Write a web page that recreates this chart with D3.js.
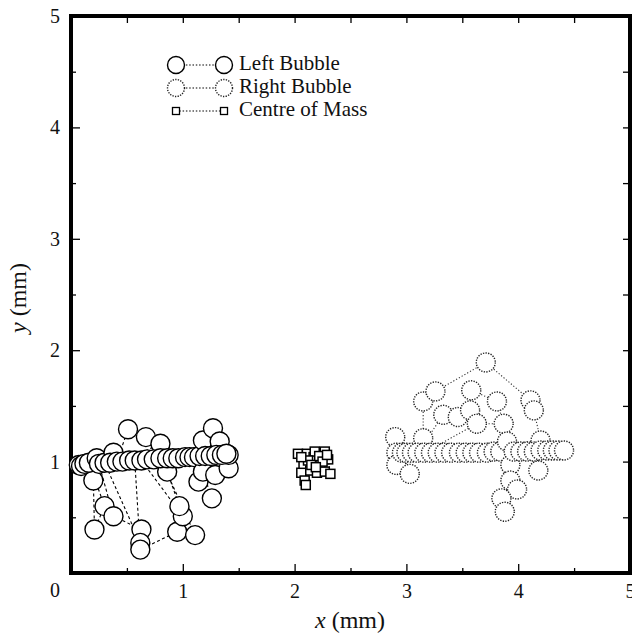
<!DOCTYPE html>
<html>
<head>
<meta charset="utf-8">
<script src="https://cdn.jsdelivr.net/npm/d3@7"></script>
<style>
  body { margin: 0; background: #fff; }
  svg text { font-family: "Liberation Serif", "Times New Roman", serif; }
</style>
</head>
<body>
<div id="container"></div>
<script>
// bubble centre positions (mm), in the order they are joined
let leftBubble = [
  [0.07,0.97],[0.09,0.96],[0.12,0.98],[0.20,0.83],[0.21,0.39],[0.30,0.60],
  [0.16,0.99],[0.23,1.03],[0.25,0.98],[0.38,0.51],[0.63,0.39],[0.62,0.27],
  [0.30,0.99],[0.38,1.08],[0.35,0.99],[0.41,1.00],[0.51,1.29],[0.67,1.22],
  [0.80,1.16],[0.46,1.00],[0.52,1.01],[0.57,1.01],[0.62,0.21],[0.95,0.37],
  [1.00,0.51],[0.63,1.01],[0.68,1.02],[0.74,1.02],[0.86,0.91],[0.97,0.60],
  [1.11,0.34],[0.80,1.03],[0.86,1.03],[0.91,1.03],[0.96,1.03],[1.02,1.04],
  [1.06,1.04],[1.10,1.04],[1.14,0.82],[1.26,0.67],[1.18,0.91],[1.15,1.05],
  [1.18,1.19],[1.27,1.30],[1.33,1.18],[1.20,1.05],[1.25,1.05],[1.29,0.88],
  [1.41,0.94],[1.41,1.06],[1.30,1.06],[1.35,1.06],[1.39,1.07]
];
let rightBubble = [
  [2.90,1.22],[2.91,1.08],[2.91,0.97],[3.03,0.89],[2.96,1.08],[3.00,1.08],
  [3.15,1.21],[3.15,1.54],[3.26,1.63],[3.71,1.89],[4.11,1.55],[4.14,1.46],
  [4.20,1.19],[3.05,1.08],[3.10,1.08],[3.33,1.42],[3.46,1.40],[3.57,1.46],
  [3.58,1.64],[3.81,1.54],[3.87,1.34],[3.63,1.34],[3.16,1.08],[3.22,1.08],
  [3.28,1.08],[3.34,1.08],[3.40,1.08],[3.47,1.08],[3.53,1.08],[3.59,1.08],
  [3.65,1.08],[3.72,1.08],[3.78,1.09],[3.84,1.09],[3.90,1.18],[3.93,0.97],
  [3.93,0.83],[3.99,0.75],[3.85,0.67],[3.88,0.55],[3.96,1.09],[4.02,1.09],
  [4.08,1.09],[4.18,0.92],[4.14,1.09],[4.20,1.10],[4.26,1.10],[4.31,1.10],
  [4.36,1.10],[4.41,1.10]
];
let centreMass = [
  [2.03,1.07],[2.06,0.90],[2.11,1.07],[2.08,0.98],[2.09,0.83],[2.10,0.79],
  [2.14,0.92],[2.17,1.04],[2.18,1.09],[2.20,0.90],[2.23,0.98],[2.27,1.09],
  [2.27,0.91],[2.30,1.02],[2.32,0.89],[2.12,1.01],[2.15,0.97],[2.22,1.05],
  [2.25,1.00],[2.06,1.04],[2.19,0.95],[2.29,1.06]
];
let majorTicks = [1, 2, 3, 4, 5];
let minorTicks = [0.5, 1.5, 2.5, 3.5, 4.5];
let legendLabels = ["Left Bubble", "Right Bubble", "Centre of Mass"];

let serif = '"Liberation Serif", "Times New Roman", serif';
let w = 632;
let h = 640;
let r = 9.5;

let svg = d3.select("#container")
  .append("svg")
  .attr("width", w)
  .attr("height", h)
  .attr("font-family", serif);

let x = d3.scaleLinear().domain([0, 5]).range([71, 630]);
let y = d3.scaleLinear().domain([0, 5]).range([573, 16]);

let line = d3.line()
  .x(function(d){ return x(d[0]) })
  .y(function(d){ return y(d[1]) });

// axes: inward ticks on all four sides
function styleAxis(g) {
  g.attr("font-family", serif).attr("font-size", 20);
  g.select(".domain").remove();
  g.selectAll("line").attr("stroke", "#000").attr("stroke-width", 1.3);
  g.selectAll("text").attr("fill", "#111");
}

svg.append("g").attr("transform", "translate(0,573)")
  .call(d3.axisBottom(x).tickValues(majorTicks).tickSize(-9).tickPadding(11).tickFormat(d3.format("d")))
  .call(styleAxis);
svg.append("g").attr("transform", "translate(0,573)")
  .call(d3.axisBottom(x).tickValues(minorTicks).tickSize(-5).tickFormat(""))
  .call(styleAxis);
svg.append("g").attr("transform", "translate(0,16)")
  .call(d3.axisTop(x).tickValues(majorTicks.concat(minorTicks)).tickSize(-7).tickFormat(""))
  .call(styleAxis);
svg.append("g").attr("transform", "translate(71,0)")
  .call(d3.axisLeft(y).tickValues(majorTicks).tickSize(-9).tickPadding(11).tickFormat(d3.format("d")))
  .call(styleAxis);
svg.append("g").attr("transform", "translate(71,0)")
  .call(d3.axisLeft(y).tickValues(minorTicks).tickSize(-5).tickFormat(""))
  .call(styleAxis);
svg.append("g").attr("transform", "translate(630,0)")
  .call(d3.axisRight(y).tickValues(majorTicks.concat(minorTicks)).tickSize(-7).tickFormat(""))
  .call(styleAxis);

// frame
svg.append("rect")
  .attr("x", x(0)).attr("y", y(5))
  .attr("width", x(5) - x(0)).attr("height", y(0) - y(5))
  .attr("fill", "none")
  .attr("stroke", "#000")
  .attr("stroke-width", 4);

// shared origin label
svg.append("text")
  .attr("x", x(0) - 16).attr("y", y(0) + 19)
  .attr("text-anchor", "middle")
  .attr("dominant-baseline", "middle")
  .attr("font-size", 20)
  .attr("fill", "#111")
  .text("0");

// axis titles
let xt = svg.append("text")
  .attr("x", 350).attr("y", 628)
  .attr("text-anchor", "middle")
  .attr("font-size", 24)
  .attr("fill", "#111");
xt.append("tspan").attr("font-style", "italic").text("x");
xt.append("tspan").text(" (mm)");

let yt = svg.append("text")
  .attr("transform", "translate(26,298) rotate(-90)")
  .attr("text-anchor", "middle")
  .attr("font-size", 24)
  .attr("fill", "#111");
yt.append("tspan").attr("font-style", "italic").text("y");
yt.append("tspan").text(" (mm)");

// right bubble (dotted)
svg.append("path")
  .datum(rightBubble)
  .attr("d", line)
  .attr("fill", "none")
  .attr("stroke", "#333")
  .attr("stroke-width", 1.1)
  .attr("stroke-dasharray", "1.2,2");
svg.selectAll(".rb")
  .data(rightBubble)
  .enter()
  .append("circle")
  .attr("class", "rb")
  .attr("cx", function(d){ return x(d[0]) })
  .attr("cy", function(d){ return y(d[1]) })
  .attr("r", r)
  .attr("fill", "#fff")
  .attr("stroke", "#222")
  .attr("stroke-width", 1.4)
  .attr("stroke-dasharray", "1.3,1.3");

// left bubble (solid)
svg.append("path")
  .datum(leftBubble)
  .attr("d", line)
  .attr("fill", "none")
  .attr("stroke", "#000")
  .attr("stroke-width", 1.1)
  .attr("stroke-dasharray", "3,2.5");
svg.selectAll(".lb")
  .data(leftBubble)
  .enter()
  .append("circle")
  .attr("class", "lb")
  .attr("cx", function(d){ return x(d[0]) })
  .attr("cy", function(d){ return y(d[1]) })
  .attr("r", r)
  .attr("fill", "#fff")
  .attr("stroke", "#000")
  .attr("stroke-width", 1.4);

// centre of mass
svg.append("path")
  .datum(centreMass)
  .attr("d", line)
  .attr("fill", "none")
  .attr("stroke", "#000")
  .attr("stroke-width", 1)
  .attr("stroke-dasharray", "1.5,1.5");
svg.selectAll(".cm")
  .data(centreMass)
  .enter()
  .append("rect")
  .attr("class", "cm")
  .attr("x", function(d){ return x(d[0]) - 4.5 })
  .attr("y", function(d){ return y(d[1]) - 4.5 })
  .attr("width", 9)
  .attr("height", 9)
  .attr("fill", "#fff")
  .attr("stroke", "#000")
  .attr("stroke-width", 1.5);

// legend
let legend = svg.append("g");
let rowsY = [65, 88, 111];
legendLabels.forEach(function(label, i) {
  let ly = rowsY[i];
  legend.append("line")
    .attr("x1", 176).attr("x2", 224)
    .attr("y1", ly).attr("y2", ly)
    .attr("stroke", "#000")
    .attr("stroke-width", 1.1)
    .attr("stroke-dasharray", "1.5,1.8");
  [176, 224].forEach(function(mx) {
    if (i < 2) {
      legend.append("circle")
        .attr("cx", mx).attr("cy", ly).attr("r", 8.5)
        .attr("fill", "#fff")
        .attr("stroke", i == 0 ? "#000" : "#222")
        .attr("stroke-width", 1.4)
        .attr("stroke-dasharray", i == 0 ? null : "1.3,1.3");
    } else {
      legend.append("rect")
        .attr("x", mx - 3.5).attr("y", ly - 3.5)
        .attr("width", 7).attr("height", 7)
        .attr("fill", "#fff")
        .attr("stroke", "#000")
        .attr("stroke-width", 1.3);
    }
  });
  legend.append("text")
    .attr("x", 239).attr("y", ly)
    .attr("dominant-baseline", "middle")
    .attr("font-size", 21)
    .attr("fill", "#111")
    .text(label);
});
</script>
</body>
</html>
